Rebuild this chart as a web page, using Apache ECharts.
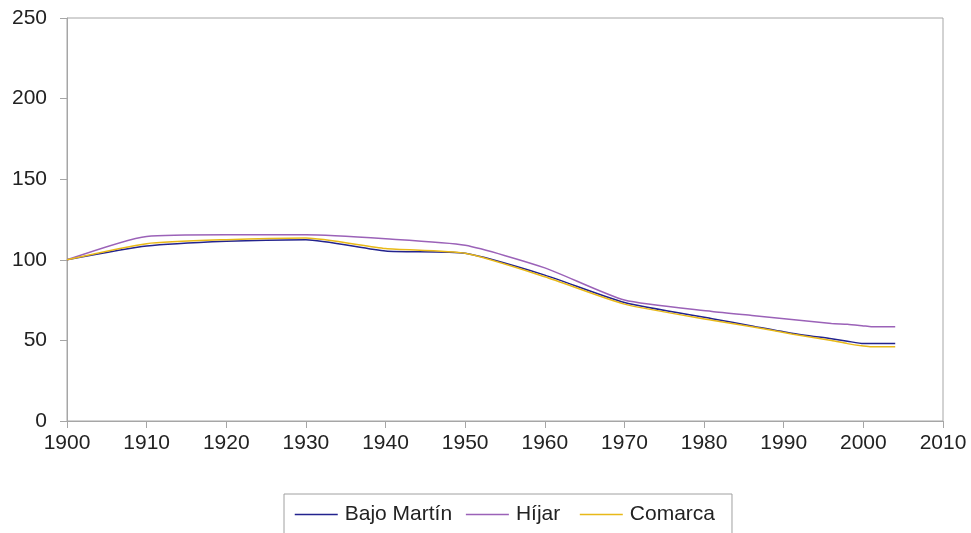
<!DOCTYPE html>
<html>
<head>
<meta charset="utf-8">
<script src="https://cdn.jsdelivr.net/npm/echarts@6/dist/echarts.min.js"></script>
<style>
  html, body { margin: 0; padding: 0; background: #fff; }
  #chart { width: 971px; height: 533px; }
</style>
</head>
<body>
<div id="chart"></div>
<script>
// años del padrón (eje X)
const years = [1900, 1910, 1920, 1930, 1940, 1950, 1960, 1970, 1981, 1986, 1991, 1996, 1998, 2000, 2001, 2004]

// índice de población, base 1900 = 100
const bajoMartin = [100, 108.5, 111.5, 112.5, 105.5, 104, 90.5, 73.5, 63.5, 59, 54.5, 51, 49.5, 48, 48, 48]
const hijar = [100, 114.5, 115.5, 115.5, 113, 109, 95, 75, 68, 65.5, 63, 60.5, 60, 59, 58.5, 58.5]
const comarca = [100, 110, 112.5, 113.5, 107, 104, 89.5, 72.5, 62.5, 58.5, 54, 50, 48, 46.5, 46, 46]

const seriesNames = ['Bajo Martín', 'Híjar', 'Comarca']
const seriesColors = ['#23238e', '#9b62b8', '#e8b918']

const chart = echarts.init(document.getElementById('chart'), null, { renderer: 'canvas' })

const pairs = (vals) => years.map((y, i) => [y, vals[i]])

function makeLine(name, vals, color) {
  return {
    name: name,
    type: 'line',
    smooth: 0.2,
    symbol: 'none',
    showSymbol: false,
    lineStyle: { color: color, width: 1.5 },
    itemStyle: { color: color },
    data: pairs(vals)
  }
}

const axisColor = '#a6a6a6'
const labelFont = { fontFamily: 'Liberation Sans, Arial, sans-serif', fontSize: 21, color: '#222' }

chart.setOption({
  backgroundColor: '#fff',
  animation: false,
  grid: {
    left: 67,
    right: 28,
    top: 18,
    bottom: 112,
    show: true,
    borderColor: axisColor,
    borderWidth: 1,
    backgroundColor: 'transparent'
  },
  legend: {
    left: 284,
    top: 494,
    padding: [10, 17, 14, 10],
    itemGap: 13,
    itemWidth: 43,
    itemHeight: 14,
    borderColor: '#a0a0a0',
    borderWidth: 1,
    itemStyle: { opacity: 0 },
    lineStyle: { width: 1.5 },
    textStyle: Object.assign({ padding: [0, 0, 0, 2] }, labelFont),
    // Excel deja más hueco tras "Híjar"
    formatter: (name) => (name === 'Híjar' ? name + ' ' : name),
    data: seriesNames
  },
  xAxis: {
    type: 'value',
    min: 1900,
    max: 2010,
    interval: 10,
    splitLine: { show: false },
    axisLine: { show: true, lineStyle: { color: axisColor } },
    axisTick: { show: true, length: 7, lineStyle: { color: axisColor } },
    axisLabel: Object.assign({ margin: 12, formatter: (v) => String(v) }, labelFont)
  },
  yAxis: {
    type: 'value',
    min: 0,
    max: 250,
    interval: 50,
    splitLine: { show: false },
    axisLine: { show: true, lineStyle: { color: axisColor } },
    axisTick: { show: true, length: 7, lineStyle: { color: axisColor } },
    axisLabel: Object.assign({ margin: 20 }, labelFont)
  },
  series: [
    makeLine(seriesNames[0], bajoMartin, seriesColors[0]),
    makeLine(seriesNames[1], hijar, seriesColors[1]),
    makeLine(seriesNames[2], comarca, seriesColors[2])
  ]
})
</script>
</body>
</html>
